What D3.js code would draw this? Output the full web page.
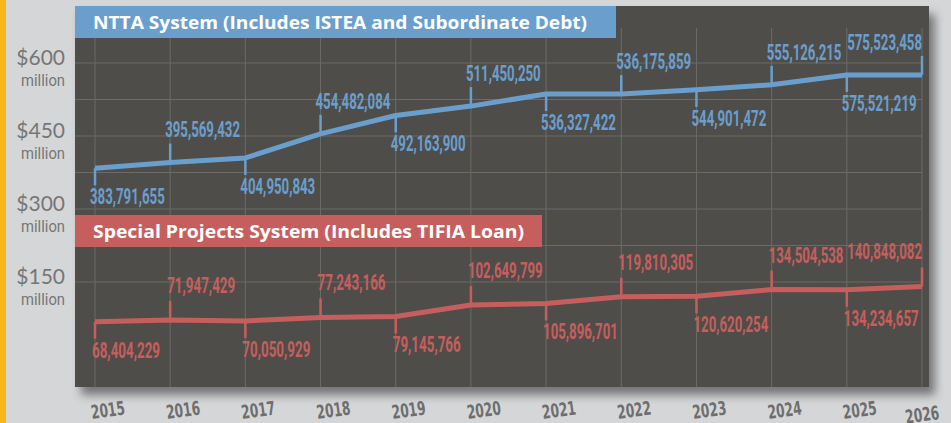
<!DOCTYPE html>
<html>
<head>
<meta charset="utf-8">
<script src="https://cdn.jsdelivr.net/npm/d3@7"></script>
<style>
  html, body { margin: 0; padding: 0; background: #d5d6d8; }
  svg { display: block; }
</style>
</head>
<body>
<div id="chart"></div>
<script>
// ---------- DATA ----------
const years = [2015, 2016, 2017, 2018, 2019, 2020, 2021, 2022, 2023, 2024, 2025, 2026];
const nttaValues = [383791655, 395569432, 404950843, 454482084, 492163900, 511450250,
                    536327422, 536175859, 544901472, 555126215, 575521219, 575523458];
const specialValues = [68404229, 71947429, 70050929, 77243166, 79145766, 102649799,
                       105896701, 119810305, 120620254, 134504538, 134234657, 140848082];
const yTickValues = [150e6, 300e6, 450e6, 600e6];
const yTickLabels = ["$150", "$300", "$450", "$600"];
const yTickUnit = "million";
const gridValues = [150e6, 225e6, 300e6, 375e6, 450e6, 525e6, 600e6];
const nttaTitle = "NTTA System (Includes ISTEA and Subordinate Debt)";
const specialTitle = "Special Projects System (Includes TIFIA Loan)";

// ---------- LAYOUT ----------
const W = 951, H = 423;
const panel = { x0: 75, x1: 929, y0: 6, y1: 387 };
const blue = "#6a9fcd", red = "#c75e5e";
const fmt = d3.format(",");

const svg = d3.select("#chart").append("svg").attr("width", W).attr("height", H);

const defs = svg.append("defs");
const f = defs.append("filter").attr("id", "shadow")
  .attr("x", "-5%").attr("y", "-5%").attr("width", "115%").attr("height", "120%");
f.append("feDropShadow").attr("dx", 6).attr("dy", 8).attr("stdDeviation", 5)
  .attr("flood-color", "#000").attr("flood-opacity", 0.45);

svg.append("rect").attr("width", W).attr("height", H).attr("fill", "#d5d6d8");
svg.append("rect").attr("x", 0).attr("y", 0).attr("width", 6).attr("height", H).attr("fill", "#f6b719");

svg.append("rect")
  .attr("x", panel.x0).attr("y", panel.y0)
  .attr("width", panel.x1 - panel.x0).attr("height", panel.y1 - panel.y0)
  .attr("fill", "#4f4e4a").attr("filter", "url(#shadow)");

const x = d3.scalePoint().domain(years).range([95, 922]);
const y = d3.scaleLinear().domain([0, 600e6]).range([355, 63]);

// gridlines
svg.append("g").selectAll("line").data(gridValues).join("line")
  .attr("x1", panel.x0).attr("x2", x(years[years.length - 1]))
  .attr("y1", d => y(d)).attr("y2", d => y(d))
  .attr("stroke", "#6c6b66").attr("stroke-width", 1);
svg.append("g").selectAll("line").data(years).join("line")
  .attr("x1", d => x(d)).attr("x2", d => x(d))
  .attr("y1", 28).attr("y2", panel.y1)
  .attr("stroke", "#6c6b66").attr("stroke-width", 1);

// title bars
function titleBar(yTop, width, textLen, color, text) {
  svg.append("rect").attr("x", panel.x0).attr("y", yTop)
    .attr("width", width).attr("height", 32).attr("fill", color);
  svg.append("text").attr("x", 93).attr("y", yTop + 23)
    .attr("fill", "#fff").attr("font-family", "Open Sans, sans-serif")
    .attr("font-weight", 700).attr("font-size", 18)
    .attr("textLength", textLen).attr("lengthAdjust", "spacingAndGlyphs")
    .text(text);
}
titleBar(6, 541, 494, blue, nttaTitle);
titleBar(215, 467, 431, red, specialTitle);

// y-axis labels
const yl = svg.append("g");
yTickValues.forEach((v, i) => {
  yl.append("text").attr("x", 65).attr("y", y(v) + 2)
    .attr("text-anchor", "end").attr("fill", "#767676")
    .attr("font-family", "Lato, sans-serif").attr("font-size", 21)
    .text(yTickLabels[i]);
  yl.append("text").attr("x", 65).attr("y", y(v) + 23)
    .attr("text-anchor", "end").attr("fill", "#767676")
    .attr("font-family", "Roboto, sans-serif").attr("font-size", 17)
    .attr("textLength", 44).attr("lengthAdjust", "spacingAndGlyphs")
    .text(yTickUnit);
});

// x-axis labels
const xl = svg.append("g");
years.forEach((yr, i) => {
  const last = i === years.length - 1;
  const tx = last ? 940 : x(yr) - 3;
  const ty = 419;
  xl.append("text")
    .attr("transform", `translate(${tx},${ty}) rotate(-8)`)
    .attr("text-anchor", last ? "end" : "start")
    .attr("fill", "#6e6e6e")
    .attr("font-family", "DejaVu Sans, sans-serif").attr("font-weight", 700)
    .attr("font-size", 19)
    .attr("textLength", 34).attr("lengthAdjust", "spacingAndGlyphs")
    .text(yr);
});

// series
function drawSeries(values, color, lblOffsetX, aboveDy) {
  const g = svg.append("g");
  const line = d3.line().x((d, i) => x(years[i])).y(d => y(d));
  g.append("path").datum(values).attr("d", line)
    .attr("fill", "none").attr("stroke", color).attr("stroke-width", 5)
    .attr("stroke-linejoin", "round");
  values.forEach((v, i) => {
    const px = x(years[i]), py = y(v);
    const above = i % 2 === 1;
    const last = i === values.length - 1;
    g.append("line").attr("x1", px).attr("x2", px)
      .attr("y1", py).attr("y2", above ? py - 19 : py + 17)
      .attr("stroke", color).attr("stroke-width", 2.5);
    const s = fmt(v);
    g.append("text")
      .attr("x", last ? px : px + lblOffsetX)
      .attr("y", above ? py + aboveDy : py + 36)
      .attr("text-anchor", last ? "end" : "start")
      .attr("fill", color)
      .attr("font-family", "Roboto, sans-serif").attr("font-weight", 700)
      .attr("font-size", 22)
      .attr("textLength", s.length * 6.8).attr("lengthAdjust", "spacingAndGlyphs")
      .text(s);
  });
}
drawSeries(nttaValues, blue, -5, -25);
drawSeries(specialValues, red, -3, -27);
</script>
</body>
</html>
